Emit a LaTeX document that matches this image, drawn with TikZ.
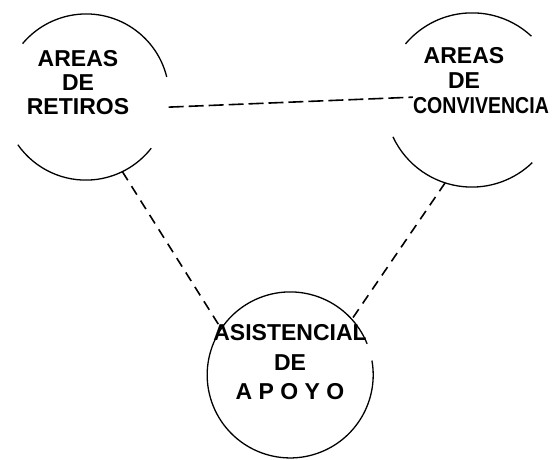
\documentclass[tikz,border=0pt]{standalone}
\usepackage{fontspec}
\setmainfont{Liberation Sans}
\usepackage{tikz}

\begin{document}
\begin{tikzpicture}[x=1pt,y=-1pt,
  zone/.style={circle,inner sep=0pt},
  ring/.style={line width=1.3pt},
  lab/.style={font=\fontsize{23}{24}\selectfont\bfseries,align=center,inner sep=0pt},
  link/.style={line width=1.6pt,dash pattern=on 10pt off 7pt}]
\useasboundingbox (0,0) rectangle (555,460);
% the three zones
\node[zone,minimum size=166pt] (retiros) at (86,97) {};
\node[zone,minimum size=174pt] (convivencia) at (472,100) {};
\node[zone,minimum size=166pt] (apoyo) at (290,375) {};
% open outlines, as sketched (angles negated because y points down)
\draw[ring] (retiros.14) arc[start angle=-14,end angle=-140,radius=83];
\draw[ring] (retiros.215) arc[start angle=-215,end angle=-322,radius=83];
\draw[ring] (convivencia.47) arc[start angle=-47,end angle=-140,radius=87];
\draw[ring] (convivencia.205) arc[start angle=-205,end angle=-314,radius=87];
\draw[ring] (apoyo.22) arc[start angle=-22,end angle=-370,radius=83];
% labels
\node[lab] (retiros-lab) at (78,82.5) {AREAS\\DE\\RETIROS};
\node[lab,font=\fontsize{23}{25}\selectfont\bfseries] (conv-top) at (464,67.7) {AREAS\\DE};
\node[lab] (conv-lab) at (481,105.5) {\scalebox{0.85}[1]{CONVIVENCIA}};
\node[lab,font=\fontsize{23}{29.5}\selectfont\bfseries] (apoyo-lab) at (290,362.5) {ASISTENCIAL\\DE\\A P O Y O};
% dashed links
\draw[link,dash pattern=on 15pt off 5pt] (retiros.-7) -- (conv-lab.north west);
\draw[link] (retiros.-64) -- (apoyo.146);
\draw[link] (convivencia.-108) -- (apoyo.42);
\end{tikzpicture}
\end{document}
